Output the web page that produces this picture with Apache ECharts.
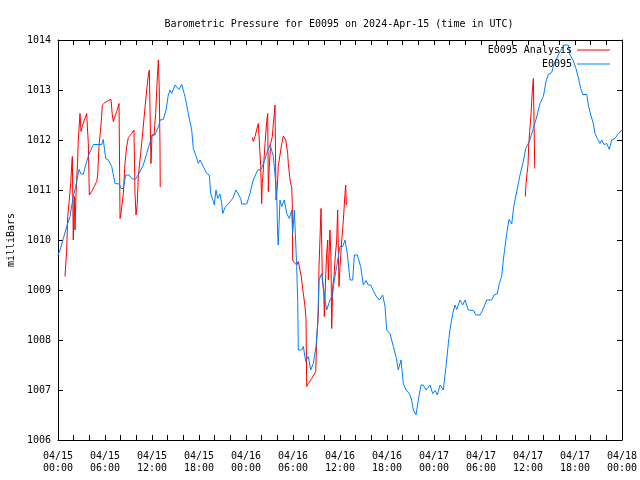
<!DOCTYPE html>
<html>
<head>
<meta charset="utf-8">
<script src="https://cdn.jsdelivr.net/npm/echarts@6/dist/echarts.min.js"></script>
<style>html,body{margin:0;padding:0;background:#fff}#c{width:640px;height:480px}</style>
</head>
<body>
<div id="c"></div>
<script>
// Hours since 2024-04-15 00:00 UTC
var stationHours = [0,0.26,0.68,1.11,1.53,1.95,2.26,2.68,2.94,3.23,3.54,3.87,4.51,5.58,5.78,6.09,6.42,6.86,7.28,7.83,8.04,8.34,8.64,9.06,9.49,9.92,10.34,10.89,11.32,11.74,12.04,12.38,12.89,13.02,13.44,13.79,14.08,14.30,14.51,14.94,15.15,15.45,15.79,16.21,16.63,17.07,17.27,17.58,17.91,18.13,18.55,18.98,19.32,19.49,19.83,19.95,20.17,20.39,20.68,20.90,21.03,21.32,21.74,21.96,22.30,22.72,22.89,23.32,23.45,24.09,24.51,24.73,24.93,25.15,25.49,25.92,26.34,26.64,27.07,27.28,27.49,27.61,27.92,28.05,28.12,28.34,28.56,28.89,29.20,29.53,29.84,29.96,30.17,30.35,30.47,30.60,30.68,31.11,31.32,31.62,31.95,32.26,32.59,32.94,33.15,33.32,33.66,33.87,34.09,34.30,34.72,35.02,35.27,35.58,36.00,36.35,36.64,36.93,37.28,37.62,37.83,38.21,38.64,38.98,39.32,39.61,39.92,40.25,40.60,41.02,41.45,41.75,41.96,42.38,42.81,43.15,43.44,43.79,44.08,44.43,44.85,45.15,45.36,45.70,46.00,46.34,46.63,46.98,47.49,47.83,48.13,48.42,48.77,49.19,49.53,49.83,50.04,50.39,50.68,50.90,51.32,51.66,51.96,52.38,53.02,53.36,53.87,54.22,54.73,55.37,55.66,56.08,56.34,56.64,56.85,57.07,57.28,57.58,57.92,58.21,58.47,58.76,58.98,59.40,59.71,60.17,60.68,61.11,61.53,61.96,62.30,62.59,63.03,63.23,63.67,64.09,64.64,65.15,65.37,65.79,66.13,66.42,66.73,66.98,67.50,67.70,68.01,68.34,68.56,68.85,69.19,69.41,69.71,70.05,70.38,70.69,71.11,71.53,72.0];
var stationPressure = [1009.70,1009.80,1010.03,1010.27,1010.47,1010.87,1011.07,1011.41,1011.32,1011.32,1011.50,1011.68,1011.91,1011.91,1012.01,1011.63,1011.60,1011.47,1011.13,1011.12,1011.03,1011.03,1011.30,1011.30,1011.22,1011.22,1011.33,1011.50,1011.73,1011.95,1012.10,1012.10,1012.30,1012.40,1012.41,1012.60,1012.90,1013.00,1012.93,1013.10,1013.10,1013.01,1013.11,1012.87,1012.53,1012.20,1011.83,1011.70,1011.53,1011.60,1011.47,1011.33,1011.30,1010.93,1010.77,1010.70,1011.00,1010.83,1010.92,1010.73,1010.53,1010.65,1010.72,1010.72,1010.83,1011.00,1011.00,1010.83,1010.72,1010.72,1010.93,1011.08,1011.20,1011.17,1011.40,1011.41,1011.57,1011.73,1011.91,1011.91,1011.67,1011.47,1010.93,1010.07,1009.90,1010.80,1010.67,1010.80,1010.53,1010.43,1010.60,1010.13,1010.60,1009.93,1009.47,1008.80,1007.80,1007.80,1007.87,1007.57,1007.67,1007.40,1007.53,1007.87,1008.33,1009.20,1009.33,1009.07,1008.80,1008.60,1008.80,1008.87,1009.20,1009.47,1009.87,1009.87,1010.00,1009.73,1009.20,1009.20,1009.70,1009.70,1009.47,1009.10,1009.19,1009.10,1009.10,1008.99,1008.88,1008.80,1008.90,1008.67,1008.20,1008.13,1007.87,1007.67,1007.40,1007.60,1007.13,1007.00,1006.93,1006.80,1006.60,1006.50,1006.80,1007.10,1007.10,1007.00,1007.10,1006.93,1006.99,1006.90,1007.10,1007.00,1007.47,1007.93,1008.21,1008.53,1008.70,1008.61,1008.80,1008.70,1008.80,1008.60,1008.59,1008.50,1008.50,1008.60,1008.80,1008.80,1008.90,1008.93,1009.13,1009.27,1009.60,1009.87,1010.13,1010.41,1010.32,1010.70,1010.90,1011.13,1011.30,1011.57,1011.83,1011.97,1012.23,1012.46,1012.73,1012.87,1013.17,1013.31,1013.35,1013.47,1013.63,1013.77,1013.90,1013.90,1013.70,1013.58,1013.43,1013.25,1013.03,1012.91,1012.91,1012.70,1012.50,1012.33,1012.13,1012.03,1011.93,1012.00,1011.91,1011.93,1011.81,1012.00,1012.03,1012.13,1012.20];

var analysisHours = [0.89,1.11,1.24,1.44,1.62,1.75,1.83,1.95,2.08,2.17,2.30,2.51,2.59,2.81,2.94,3.10,3.36,3.66,3.87,4.00,4.30,4.63,4.94,5.07,5.23,5.49,5.66,6.00,6.42,6.77,6.93,7.06,7.28,7.49,7.79,7.92,8.04,8.34,8.55,8.77,8.98,9.41,9.70,9.83,9.96,10.12,10.25,10.68,11.02,11.32,11.53,11.66,11.87,12.00,12.26,12.47,12.64,12.81,12.93,13.02,13.05,
  18.0,
  24.81,24.93,25.15,25.36,25.57,25.70,25.88,26.00,26.08,26.21,26.43,26.64,26.77,26.85,26.94,27.15,27.36,27.49,27.62,27.70,27.83,28.00,28.12,28.34,28.56,28.77,28.89,29.07,29.32,29.40,29.62,29.84,29.91,29.96,30.17,30.47,30.68,30.90,31.02,31.32,31.53,31.66,31.75,31.95,32.39,32.90,33.03,33.24,33.32,33.58,33.75,33.93,34.00,34.19,34.30,34.43,34.51,34.64,34.72,34.85,34.94,35.07,35.24,35.36,35.58,35.70,35.87,36.00,36.22,36.34,36.51,36.64,36.73,36.81,
  48.0,
  59.66,59.74,59.87,60.00,60.09,60.21,60.38,60.47,60.55,60.68,60.77,60.86];
var analysisPressure = [1009.27,1009.80,1010.47,1010.80,1011.13,1011.50,1011.67,1010.00,1010.87,1010.20,1010.93,1011.60,1012.00,1012.53,1012.17,1012.27,1012.40,1012.53,1011.93,1010.90,1010.97,1011.07,1011.17,1011.30,1011.87,1012.30,1012.70,1012.75,1012.79,1012.81,1012.50,1012.37,1012.47,1012.57,1012.73,1010.43,1010.53,1010.93,1011.53,1011.87,1012.05,1012.13,1012.20,1010.93,1010.50,1010.73,1011.27,1011.93,1012.50,1013.00,1013.30,1013.40,1011.53,1012.10,1012.10,1012.53,1013.13,1013.60,1013.00,1011.87,1011.06,
  null,
  1012.05,1011.97,1012.07,1012.20,1012.33,1012.37,1011.47,1010.73,1011.13,1011.40,1011.93,1012.37,1012.53,1010.97,1011.37,1011.93,1012.07,1012.33,1012.53,1012.70,1010.80,1011.07,1011.47,1011.70,1011.93,1012.08,1012.10,1012.00,1011.73,1011.53,1011.20,1011.05,1010.73,1009.60,1009.55,1009.50,1009.57,1009.61,1009.30,1008.93,1008.67,1008.43,1007.07,1007.13,1007.23,1007.37,1008.03,1008.53,1009.47,1010.63,1009.20,1008.93,1008.47,1009.33,1009.73,1010.00,1009.20,1009.87,1010.20,1009.60,1008.23,1009.07,1009.27,1009.60,1010.00,1010.60,1009.07,1009.47,1010.00,1010.20,1010.60,1010.93,1011.10,1010.70,
  null,
  1010.87,1011.10,1011.33,1011.50,1011.90,1012.17,1012.50,1012.77,1012.97,1013.23,1012.37,1011.43];

var xTickLabels = ['04/15\n00:00','04/15\n06:00','04/15\n12:00','04/15\n18:00','04/16\n00:00','04/16\n06:00','04/16\n12:00','04/16\n18:00','04/17\n00:00','04/17\n06:00','04/17\n12:00','04/17\n18:00','04/18\n00:00'];

var titleText = 'Barometric Pressure for E0095 on 2024-Apr-15 (time in UTC)';
var FONT = 'DejaVu Sans Mono';

function pairs(xs, ys) {
  var out = [];
  for (var i = 0; i < xs.length; i++) out.push([xs[i], ys[i]]);
  return out;
}

var chart = echarts.init(document.getElementById('c'), null, {renderer: 'canvas'});
var axisCommon = {
  type: 'value',
  axisLine: {show: true, onZero: false, lineStyle: {color: '#000', width: 1}},
  axisTick: {show: true, inside: true, length: 5, lineStyle: {color: '#000'}},
  splitLine: {show: false}
};
chart.setOption({
  animation: false,
  backgroundColor: '#fff',
  textStyle: {fontFamily: FONT},
  title: {
    text: titleText, left: 334, top: 14, textAlign: 'center',
    textStyle: {fontFamily: FONT, fontSize: 10, fontWeight: 'normal', color: '#000'}
  },
  legend: [
    {data: ['E0095 Analysis'], right: 25, top: 40, align: 'right', orient: 'vertical',
     itemWidth: 33, itemHeight: 1, icon: 'rect',
     textStyle: {fontFamily: FONT, fontSize: 10, color: '#000'}},
    {data: ['E0095'], right: 25, top: 54, align: 'right', orient: 'vertical',
     itemWidth: 33, itemHeight: 1, icon: 'rect',
     textStyle: {fontFamily: FONT, fontSize: 10, color: '#000'}}
  ],
  grid: {left: 58, right: 18, top: 40, bottom: 40, containLabel: false, outerBoundsMode: 'none'},
  xAxis: [
    Object.assign({}, axisCommon, {
      min: 0, max: 72, interval: 6, position: 'bottom',
      minorTick: {show: true, splitNumber: 3, length: 5, lineStyle: {color: '#000'}},
      axisLabel: {
        fontFamily: FONT, fontSize: 10, color: '#000', lineHeight: 12, margin: 10,
        formatter: function (v) { return xTickLabels[Math.round(v / 6)]; }
      }
    }),
    Object.assign({}, axisCommon, {
      min: 0, max: 72, interval: 6, position: 'top',
      minorTick: {show: true, splitNumber: 3, length: 5, lineStyle: {color: '#000'}},
      axisLabel: {show: false}
    })
  ],
  yAxis: [
    Object.assign({}, axisCommon, {
      min: 1006, max: 1014, interval: 1, position: 'left',
      name: 'milliBars', nameLocation: 'middle', nameRotate: 90, nameGap: 40,
      nameTextStyle: {fontFamily: FONT, fontSize: 10, color: '#000'},
      axisLabel: {fontFamily: FONT, fontSize: 10, color: '#000', margin: 7,
        formatter: function (v) { return String(v); }}
    }),
    Object.assign({}, axisCommon, {
      min: 1006, max: 1014, interval: 1, position: 'right',
      axisLabel: {show: false}
    })
  ],
  series: [
    {
      name: 'E0095 Analysis', type: 'line', xAxisIndex: 0, yAxisIndex: 0,
      data: pairs(analysisHours, analysisPressure),
      showSymbol: false, symbol: 'none', connectNulls: false,
      lineStyle: {color: '#ff0000', width: 1}, itemStyle: {color: '#ff0000'}
    },
    {
      name: 'E0095', type: 'line', xAxisIndex: 0, yAxisIndex: 0,
      data: pairs(stationHours, stationPressure),
      showSymbol: false, symbol: 'none',
      lineStyle: {color: '#0080ff', width: 1}, itemStyle: {color: '#0080ff'}
    }
  ]
});
</script>
</body>
</html>
